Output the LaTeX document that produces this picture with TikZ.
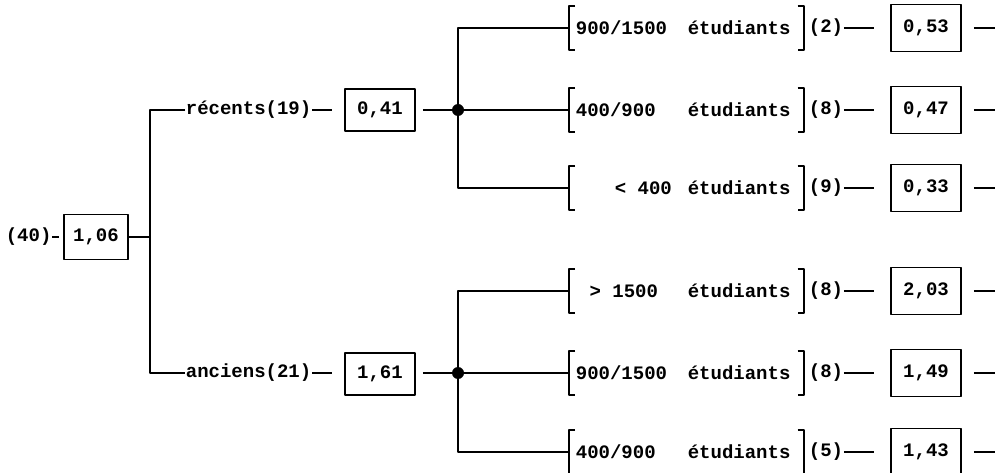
\documentclass[tikz,border=0pt]{standalone}
\usepackage{fontspec}
\setmonofont{Liberation Mono}
\newcommand\catlabel[2]{\makebox[221pt][l]{\makebox[96pt][#1]{#2}\hspace{16pt}étudiants}}
\begin{document}
\begin{tikzpicture}[x=1pt, y=-1pt, line width=1.7pt, line join=round,
		font=\ttfamily\bfseries\fontsize{19}{21}\selectfont,
		valbox/.style={draw, minimum width=70pt, minimum height=42pt, inner sep=0pt},
		lbl/.style={inner sep=0pt, anchor=west},
		catbox/.style={inner xsep=6pt, inner ysep=0pt, minimum height=42pt, anchor=west}]
	\useasboundingbox (0,0) rectangle (997,473);
	% tronc
	\node[lbl] (tot) at (5,237) {(40)};
	\node[valbox, minimum width=64pt, minimum height=45pt] (root) at (96,237) {1,06};
	\draw[shorten >=4pt] (tot) -- (root);
	\coordinate (fk) at (150,237);
	\draw (root) -- (fk);
	\node[lbl] (rec) at (185,110) {récents(19)};
	\node[lbl] (anc) at (185,373) {anciens(21)};
	\draw (rec.west) -| (fk) |- (anc.west);
	\node[valbox] (vr) at (380,110) {0,41};
	\node[valbox] (va) at (380,374) {1,61};
	\draw[shorten >=12pt] (rec) -- (vr);
	\draw[shorten >=12pt] (anc) -- (va.west |- anc);
	% branches
	\path (458,110) coordinate (dr) (458,373) coordinate (da);
	\foreach \r/\y/\al/\num/\n/\v in {1/28/l/{900/1500}/2/{0,53}, 2/110/l/{400/900}/8/{0,47}, 3/188/r/{< 400}/9/{0,33},
			4/291/c/{> 1500}/8/{2,03}, 5/373/l/{900/1500}/8/{1,49}, 6/452/l/{400/900}/5/{1,43}} {
		\node[catbox] (c\r) at (569,\y) {\catlabel{\al}{\num}};
		\draw ([xshift=6pt]c\r.north west) -| (c\r.south west) -- ++(6,0);
		\draw ([xshift=-6pt]c\r.north east) -| (c\r.south east) -- ++(-6,0);
		\node[lbl] (k\r) at (808,\y) {(\n)};
		\node[valbox, minimum height=47pt] (v\r) at (926,\y) {\v};
		\draw[shorten >=16pt] (k\r) -- (v\r);
		\coordinate (e\r) at (995,\y);
		\draw[shorten <=12pt] (v\r.east) -- (e\r);
	}
	\draw (c1.west) -| (dr) |- (c3.west) (dr) -- (c2.west);
	\draw (c4.west) -| (da) |- (c6.west) (da) -- (c5.west);
	\draw[shorten <=7pt] (vr) -- (dr);
	\draw[shorten <=7pt] (va.east |- da) -- (da);
	\fill (dr) circle (6) (da) circle (6);
\end{tikzpicture}
\end{document}
